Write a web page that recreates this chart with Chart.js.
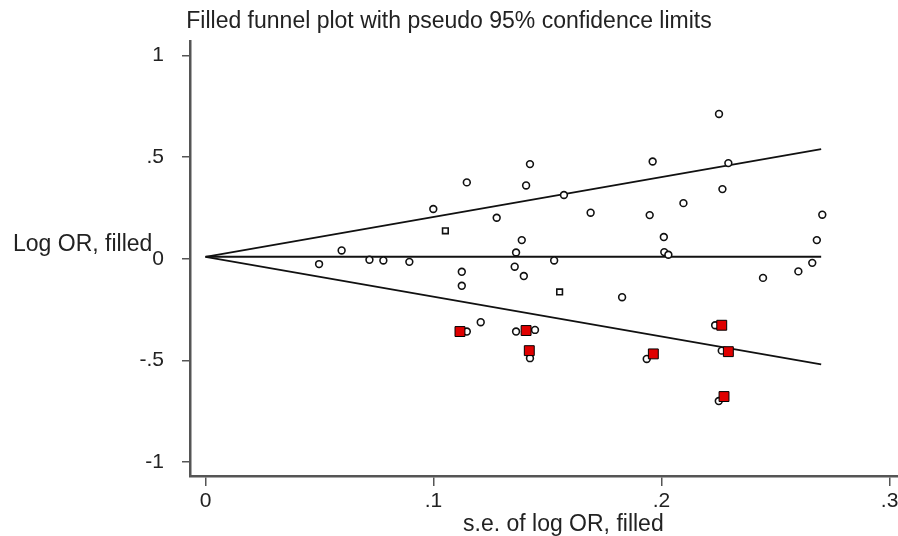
<!DOCTYPE html>
<html>
<head>
<meta charset="utf-8">
<script src="https://cdn.jsdelivr.net/npm/chart.js@4/dist/chart.umd.min.js"></script>
<style>
  html, body { margin: 0; padding: 0; background: #fff; }
  #wrap { width: 898px; height: 536px; }
</style>
</head>
<body>
<div id="wrap"><canvas id="funnel"></canvas></div>
<script>
// estudios observados (se, log OR)
const seObs = [0.0498, 0.0597, 0.0719, 0.078, 0.0894, 0.0999, 0.1124, 0.1124, 0.1146, 0.1277,
  0.1423, 0.1406, 0.1387, 0.1362, 0.1356, 0.1396, 0.1529, 0.1572, 0.1689, 0.1827,
  0.1961, 0.1948, 0.201, 0.2012, 0.203, 0.2096, 0.2252, 0.2293, 0.2267, 0.2705,
  0.2681, 0.2661, 0.26, 0.2445, 0.1207, 0.1146, 0.1362, 0.1445, 0.1423, 0.1935,
  0.2235, 0.2264, 0.2251];
const logOrObs = [-0.026, 0.041, -0.005, -0.008, -0.015, 0.245, -0.064, -0.133, 0.376, 0.202,
  0.466, 0.361, 0.092, 0.031, -0.039, -0.085, -0.008, 0.314, 0.227, -0.189,
  0.479, 0.215, 0.107, 0.033, 0.02, 0.274, 0.713, 0.471, 0.343, 0.217,
  0.092, -0.020, -0.062, -0.094, -0.312, -0.358, -0.358, -0.35, -0.489, -0.493,
  -0.327, -0.452, -0.700];

// los dos que salen como cuadraditos
const seObsSq = [0.1052, 0.1553];
const logOrObsSq = [0.138, -0.163];

// estudios rellenados (trim and fill)
const seFilled = [0.1116, 0.1406, 0.142, 0.1964, 0.2264, 0.2293, 0.2274];
const logOrFilled = [-0.358, -0.353, -0.452, -0.468, -0.327, -0.457, -0.678];

// embudo: extremos de las lineas
const seLine = [0, 0.27];
const pooled = [0.01, 0.01];
const upperLimit = [0.01, 0.54];
const lowerLimit = [0.01, -0.52];

// ejes
const xTicks = [0, 0.1, 0.2, 0.3];
const xTickLabels = ['0', '.1', '.2', '.3'];
const yTicks = [1, 0.5, 0, -0.5, -1];
const yTickLabels = ['1', '.5', '0', '-.5', '-1'];

function pares(xs, ys) {
  return xs.map((x, i) => ({ x: x, y: ys[i] }));
}

const FONT = "'Liberation Sans', Arial, sans-serif";

const axisTitles = {
  id: 'axisTitles',
  afterDraw(chart) {
    const ctx = chart.ctx;
    ctx.save();
    ctx.fillStyle = '#222';
    ctx.font = '23px ' + FONT;
    ctx.textBaseline = 'alphabetic';
    ctx.textAlign = 'left';
    ctx.fillText('Log OR, filled', 13, 251);
    ctx.fillText('s.e. of log OR, filled', 463, 531);
    ctx.restore();
  }
};

const lineStyle = {
  showLine: true,
  borderColor: '#111',
  borderWidth: 1.8,
  pointRadius: 0,
  fill: false
};

new Chart(document.getElementById('funnel'), {
  type: 'scatter',
  data: {
    datasets: [
      {
        label: 'filled',
        data: pares(seFilled, logOrFilled),
        pointStyle: 'rect',
        pointRadius: 7,
        backgroundColor: '#e00000',
        borderColor: '#000',
        borderWidth: 1
      },
      {
        label: 'observed',
        data: pares(seObs, logOrObs),
        pointStyle: 'circle',
        pointRadius: 3.4,
        backgroundColor: '#fff',
        borderColor: '#111',
        borderWidth: 1.6
      },
      {
        label: 'observed sq',
        data: pares(seObsSq, logOrObsSq),
        pointStyle: 'rect',
        pointRadius: 4,
        backgroundColor: '#fff',
        borderColor: '#111',
        borderWidth: 1.6
      },
      Object.assign({ label: 'pooled', data: pares(seLine, pooled) }, lineStyle),
      Object.assign({ label: 'upper', data: pares(seLine, upperLimit) }, lineStyle),
      Object.assign({ label: 'lower', data: pares(seLine, lowerLimit) }, lineStyle)
    ]
  },
  options: {
    responsive: true,
    maintainAspectRatio: false,
    animation: false,
    // sin autoPadding, el radio de los puntos encogia el area por la derecha
    layout: { padding: 0, autoPadding: false },
    plugins: {
      legend: { display: false },
      tooltip: { enabled: false },
      title: {
        display: true,
        text: 'Filled funnel plot with pseudo 95% confidence limits',
        color: '#222',
        font: { family: FONT, size: 23, weight: 'normal' },
        padding: { top: 8, bottom: 6 }
      }
    },
    scales: {
      x: {
        type: 'linear',
        min: -0.0068,
        max: 0.3037,
        afterFit: function(scale) {
          scale.height = 60;
          scale.paddingLeft = 0;
          scale.paddingRight = 0;
        },
        afterBuildTicks: function(scale) {
          scale.ticks = xTicks.map(v => ({ value: v }));
        },
        ticks: {
          color: '#222',
          font: { family: FONT, size: 21 },
          padding: 3,
          maxRotation: 0,
          callback: function(v) {
            const i = xTicks.findIndex(t => Math.abs(t - v) < 1e-9);
            return i >= 0 ? xTickLabels[i] : '';
          }
        },
        grid: { drawOnChartArea: false, drawTicks: true, tickLength: 10, color: '#555', lineWidth: 1.5 },
        border: { display: true, color: '#555', width: 2.5 }
      },
      y: {
        type: 'linear',
        min: -1.069,
        max: 1.069,
        afterFit: function(scale) {
          scale.width = 190;
          scale.paddingTop = 0;
          scale.paddingBottom = 0;
        },
        afterBuildTicks: function(scale) {
          scale.ticks = yTicks.map(v => ({ value: v }));
        },
        ticks: {
          color: '#222',
          font: { family: FONT, size: 21 },
          padding: 18,
          callback: function(v) {
            const i = yTicks.findIndex(t => Math.abs(t - v) < 1e-9);
            return i >= 0 ? yTickLabels[i] : '';
          }
        },
        grid: { drawOnChartArea: false, drawTicks: true, tickLength: 8, color: '#555', lineWidth: 1.5 },
        border: { display: true, color: '#555', width: 2.5 }
      }
    }
  },
  plugins: [axisTitles]
});
</script>
</body>
</html>
